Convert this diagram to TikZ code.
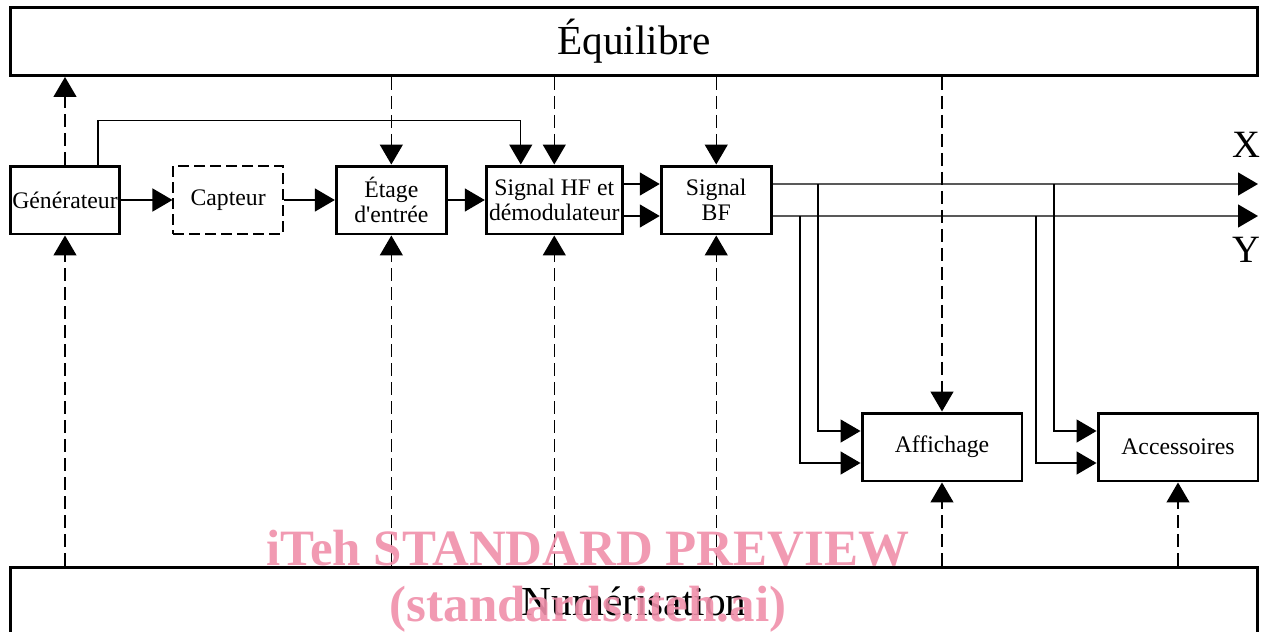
\documentclass[tikz,border=0pt]{standalone}
\usepackage{fontspec}
\setmainfont{Liberation Serif}
\usetikzlibrary{arrows.meta, positioning}
\definecolor{wmpink}{RGB}{239,143,170}

\begin{document}
\begin{tikzpicture}[
    x=0.02cm, y=-0.02cm,
    block/.style={rectangle, draw, line width=1.7pt, minimum width=2.2cm, minimum height=1.36cm, inner sep=1pt, align=center, font=\fontsize{13.5}{14.5}\selectfont},
    sensor/.style={block, dashed, line width=0.8pt, dash pattern=on 0.22cm off 0.1cm},
    bus/.style={rectangle, draw, line width=1.7pt, minimum width=24.96cm, minimum height=1.36cm, font=\fontsize{23.5}{27}\selectfont},
    axis/.style={font=\fontsize{22}{26}\selectfont, inner sep=0pt},
    arrow/.style={-{Triangle[length=0.4cm, width=0.46cm]}, line width=0.8pt},
    dasharrow/.style={arrow, dash pattern=on 0.26cm off 0.12cm},
    wmark/.style={text=wmpink, font=\fontsize{29}{31}\selectfont\bfseries, inner sep=0pt, anchor=base, opacity=0.9}
]
\useasboundingbox (0,0) rectangle (1265,632);
\clip (0,0) rectangle (1265,632);

% Buses
\node[bus] (Equi) at (634,41.5) {Équilibre};
\node[bus] (Num) at (634,601) {Numérisation};

% Signal chain
\node[block] (Gen) at (65,200) {Générateur};
\node[sensor, right=1.02cm of Gen] (Capt) {Capteur};
\node[block, right=1.02cm of Capt] (Etage) {Étage\\d\textquotesingle entrée};
\node[block, right=0.74cm of Etage, minimum width=2.72cm] (HF) {Signal HF et\\démodulateur};
\node[block, right=0.72cm of HF] (BF) {Signal\\BF};

% Outputs
\node[block, minimum width=3.2cm] (Aff) at (942,447) {Affichage};
\node[block, minimum width=3.2cm] (Acc) at (1178,447) {Accessoires};
\node[axis] (lblX) at (1246,145) {X};
\node[axis] (lblY) at (1246,250) {Y};
\coordinate (outX) at (1258,184);
\coordinate (outY) at (1258,216);
\coordinate (tapA) at (818,184);
\coordinate (tapB) at (800,216);
\coordinate (tapC) at (1054,184);
\coordinate (tapD) at (1036,216);

% Edges
\draw[arrow] (Gen) -- (Capt);
\draw[arrow] (Capt) -- (Etage);
\draw[arrow] (Etage) -- (HF);
\draw[arrow] ([yshift=0.32cm]HF.east) -- ([yshift=0.32cm]BF.west);
\draw[arrow] ([yshift=-0.32cm]HF.east) -- ([yshift=-0.32cm]BF.west);
\draw[arrow] ([yshift=0.32cm]BF.east) -- (outX);
\draw[arrow] ([yshift=-0.32cm]BF.east) -- (outY);
\draw[arrow] ([xshift=0.66cm]Gen.north) -- ++(0,-44) -| ([xshift=-0.67cm]HF.north);
\draw[arrow] (tapA) |- ([yshift=0.32cm]Aff.west);
\draw[arrow] (tapB) |- ([yshift=-0.32cm]Aff.west);
\draw[arrow] (tapC) |- ([yshift=0.32cm]Acc.west);
\draw[arrow] (tapD) |- ([yshift=-0.32cm]Acc.west);

% Dashed links to the buses
\draw[dasharrow] (Gen.north) -- (Gen.north |- Equi.south);
\foreach \n in {Etage, HF, BF, Aff}
    \draw[dasharrow] (Equi.south -| \n.north) -- (\n.north);
\foreach \n in {Gen, Etage, HF, BF, Aff, Acc}
    \draw[dasharrow] (Num.north -| \n.south) -- (\n.south);

% Watermark
\node[wmark] (wmTop) at (588,565) {iTeh STANDARD PREVIEW};
\node[wmark] (wmBot) at (588,621) {(standards.iteh.ai)};

\end{tikzpicture}
\end{document}
